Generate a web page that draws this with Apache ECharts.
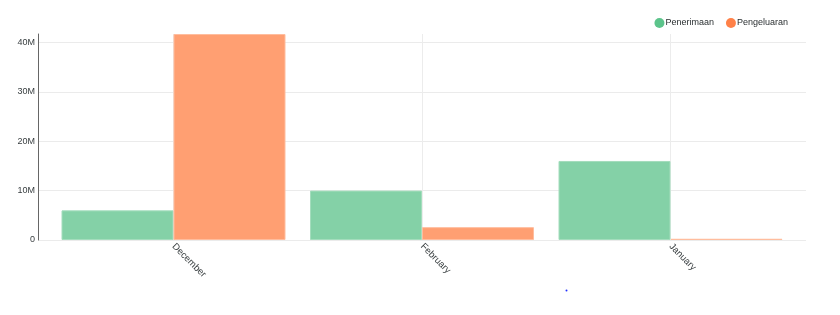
<!DOCTYPE html>
<html><head><meta charset="utf-8">
<script src="https://cdn.jsdelivr.net/npm/echarts@6/dist/echarts.min.js"></script>
<style>html,body{margin:0;padding:0;background:#fff}#c{width:840px;height:315px}</style>
</head><body><div id="c"></div>
<script>
const categories = ['December', 'February', 'January'];
const penerimaan = [6.0e6, 10.0e6, 16.0e6];
const pengeluaran = [41.7e6, 2.6e6, 0.25e6];
const yTicks = [0, 10e6, 20e6, 30e6, 40e6];
const seriesNames = ['Penerimaan', 'Pengeluaran'];

const yMax = 41.7e6;
const font = 'Liberation Sans, Arial, sans-serif';
const txt = '#373d3f';
const chart = echarts.init(document.getElementById('c'), null, {renderer: 'canvas'});
chart.setOption({
  animation: false,
  textStyle: {fontFamily: font},
  legend: {
    right: 47, top: 13, itemWidth: 10, itemHeight: 10, itemGap: 12,
    icon: 'circle',
    textStyle: {fontSize: 9, color: '#2a2f31', fontFamily: font, padding: [0, 0, 0, -4]},
    data: [
      {name: seriesNames[0], itemStyle: {color: '#5cc48b', borderWidth: 0}},
      {name: seriesNames[1], itemStyle: {color: '#ff8148', borderWidth: 0}}
    ]
  },
  grid: [
    {left: 38, right: 34, top: 34, bottom: 75},
    {left: 173.5, right: 169.5, top: 34, bottom: 75}
  ],
  xAxis: [
    {type: 'category', gridIndex: 0, data: categories, show: false},
    {type: 'category', gridIndex: 1, data: categories, boundaryGap: false,
     axisLine: {show: false}, axisTick: {show: false},
     axisLabel: {rotate: -45, fontSize: 9.5, color: txt, margin: 5, fontFamily: font},
     splitLine: {show: true, lineStyle: {color: '#ececec', width: 1}}}
  ],
  yAxis: [
    {type: 'value', gridIndex: 0, min: 0, max: yMax, interval: 10e6,
     axisLine: {show: true, lineStyle: {color: '#666'}},
     axisTick: {show: false},
     axisLabel: {fontSize: 9, color: txt, margin: 3, fontFamily: font,
       showMaxLabel: false,
       formatter: v => yTicks.includes(v) ? (v === 0 ? '0' : (v / 1e6) + 'M') : ''},
     splitLine: {showMaxLine: false, lineStyle: {color: '#ebebeb'}}},
    {type: 'value', gridIndex: 1, min: 0, max: yMax, show: false, splitLine: {show: false}}
  ],
  series: [
    {name: seriesNames[0], type: 'bar', xAxisIndex: 1, yAxisIndex: 1, data: penerimaan,
     barWidth: 112, barGap: '0%', clip: false,
     itemStyle: {color: '#84d1a7', borderColor: '#a4ddbd', borderWidth: 1}},
    {name: seriesNames[1], type: 'bar', xAxisIndex: 1, yAxisIndex: 1, data: pengeluaran,
     barWidth: 112, barGap: '0%', clip: false,
     itemStyle: {color: '#ff9f72', borderColor: '#ffbd9e', borderWidth: 1}}
  ],
  graphic: [{type: 'circle', shape: {cx: 566.5, cy: 290.5, r: 1}, style: {fill: '#2030ff'}}]
});
</script></body></html>
